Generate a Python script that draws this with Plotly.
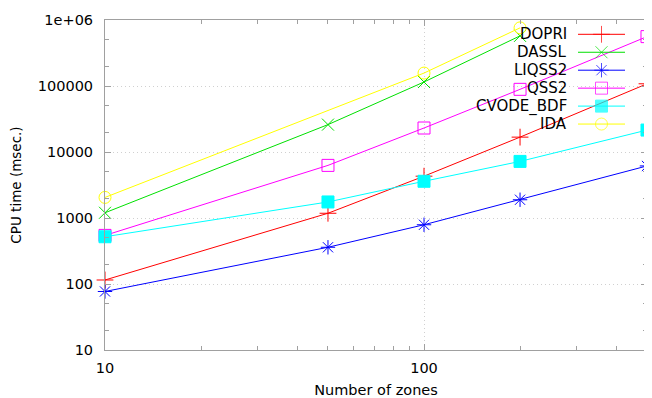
import plotly.graph_objects as go

# ---- data ----
zones = [10, 50, 100, 200, 500]
dopri = [115, 1180, 4300, 16800, 108000]
dassl = [1200, 26000, 115000, 575000]
liqss2 = [77, 360, 790, 1890, 6150]
qss2 = [545, 6270, 23100, 89000, 560000]
cvode_bdf = [520, 1750, 3600, 7200, 21500]
ida = [2050, 157000, 760000]
# DASSL measured up to 200 zones, IDA at 10, 100 and 200 zones
zones_dassl = [10, 50, 100, 200]
zones_ida = [10, 100, 200]

series_names = ["DOPRI", "DASSL", "LIQSS2", "QSS2", "CVODE_BDF", "IDA"]
series_colors = ["#ff0000", "#00e000", "#0000ff", "#ff00ff", "#00ffff", "#ffff00"]
series_symbols = ["cross-thin-open", "x-thin-open", "asterisk-open",
                  "square-open", "square", "circle-open"]

y_tickvals = [10, 100, 1000, 10000, 100000, 1000000]
y_ticktext = ["10", "100", "1000", "10000", "100000", "1e+06"]
x_tickvals = [10, 100]
x_ticktext = ["10", "100"]

FONT = "DejaVu Sans"
GRAY = "#a0a0a0"
GRID = "#d0d0d0"

data = [
    (zones, dopri), (zones_dassl, dassl), (zones, liqss2),
    (zones, qss2), (zones, cvode_bdf), (zones_ida, ida),
]

fig = go.Figure()
for (xs, ys), name, col, sym in zip(data, series_names, series_colors, series_symbols):
    fig.add_trace(go.Scatter(
        x=xs, y=ys, mode="lines+markers", name=name,
        line=dict(color=col, width=1),
        marker=dict(symbol=sym, size=12, color=col,
                    line=dict(color=col, width=1)),
        cliponaxis=False, showlegend=False,
    ))

# gnuplot-style key: text right-aligned, sample to the right
# (coordinates of the overlay axis are page pixels of the plot area)
key_text_x = 569
key_x0, key_mid, key_x1 = 578, 601.5, 625
key_y0, key_dy = 34.3, 17.95
for i, (name, col, sym) in enumerate(zip(series_names, series_colors, series_symbols)):
    ry = key_y0 + i * key_dy
    fig.add_trace(go.Scatter(
        x=[key_x0, key_mid, key_x1], y=[ry, ry, ry], mode="lines+markers",
        xaxis="x2", yaxis="y2",
        line=dict(color=col, width=1),
        marker=dict(symbol=sym, size=[0, 12, 0], color=col,
                    line=dict(color=col, width=1)),
        cliponaxis=False, showlegend=False, hoverinfo="skip",
    ))
    fig.add_annotation(x=key_text_x, y=ry, xref="x2", yref="y2", text=name,
                       showarrow=False, xanchor="right", yanchor="middle",
                       font=dict(family=FONT, size=15, color="#000000"))

# page has an 8px body margin, so the figure is 644x390 offset by (8, 8)
fig.update_layout(
    width=644, height=390,
    margin=dict(l=97, r=5, t=12, b=48),
    paper_bgcolor="white", plot_bgcolor="white",
    font=dict(family=FONT, size=14.5, color="#000000"),
    xaxis=dict(
        type="log", range=[1, 2.69900], automargin=False,
        tickvals=x_tickvals, ticktext=x_ticktext,
        ticks="inside", ticklen=6, tickcolor=GRAY, tickwidth=1,
        showline=True, linecolor=GRAY, linewidth=1, mirror="allticks",
        showgrid=True, gridcolor=GRID, griddash="1px,3px", gridwidth=1,
        zeroline=False,
        minor=dict(tickvals=[20, 30, 40, 50, 60, 70, 80, 90, 200, 300, 400],
                   ticks="inside", ticklen=4, tickcolor=GRAY, showgrid=False),
        title=dict(text="Number of zones", font=dict(size=14.5), standoff=10),
        ticklabelstandoff=5,
    ),
    yaxis=dict(
        type="log", range=[1, 6], automargin=False,
        tickvals=y_tickvals, ticktext=y_ticktext,
        ticks="inside", ticklen=6, tickcolor=GRAY, tickwidth=1,
        showline=True, linecolor=GRAY, linewidth=1, mirror="allticks",
        showgrid=True, gridcolor=GRID, griddash="1px,3px", gridwidth=1,
        zeroline=False,
        minor=dict(tickvals=[20, 50, 200, 500, 2000, 5000, 20000, 50000,
                             200000, 500000],
                   ticks="inside", ticklen=4, tickcolor=GRAY, showgrid=False),
        title=dict(text="CPU time (msec.)", font=dict(size=13.5), standoff=16),
        ticklabelstandoff=8,
    ),
    xaxis2=dict(overlaying="x", range=[105, 647], visible=False, fixedrange=True),
    yaxis2=dict(overlaying="y", range=[350, 20], visible=False, fixedrange=True),
)

fig.write_html("out.html")
